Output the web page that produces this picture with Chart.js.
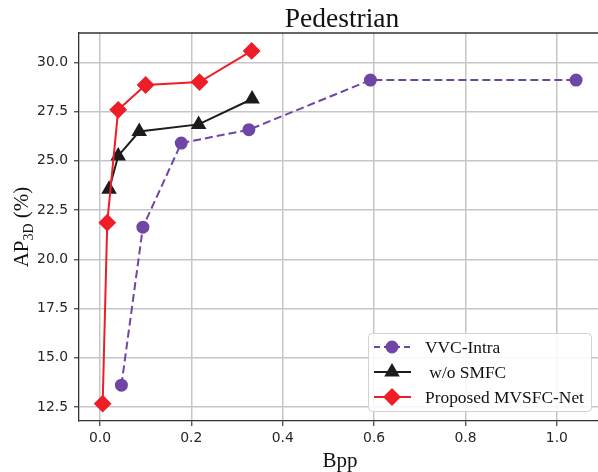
<!DOCTYPE html>
<html lang="en">
<head>
    <meta charset="UTF-8">
    <title>Pedestrian</title>
    <script src="https://cdn.jsdelivr.net/npm/chart.js"></script>
    <style>
        html, body { margin: 0; padding: 0; background: #fff; }
        #wrap { width: 598px; height: 472px; }
    </style>
</head>
<body>
    <div id="wrap"><canvas id="chart" width="598" height="472"></canvas></div>

    <script>
        // data
        const vvcX = [0.047, 0.094, 0.178, 0.326, 0.592, 1.042];
        const vvcY = [13.61, 21.63, 25.90, 26.58, 29.10, 29.10];
        const smfcX = [0.020, 0.040, 0.086, 0.216, 0.333];
        const smfcY = [23.56, 25.25, 26.49, 26.85, 28.14];
        const propX = [0.006, 0.016, 0.040, 0.100, 0.218, 0.332];
        const propY = [12.67, 21.86, 27.59, 28.85, 29.00, 30.58];
        const xTicks = [0.0, 0.2, 0.4, 0.6, 0.8, 1.0];
        const yTicks = [12.5, 15.0, 17.5, 20.0, 22.5, 25.0, 27.5, 30.0];
        const seriesNames = ['VVC-Intra', ' w/o SMFC', 'Proposed MVSFC-Net'];

        const serif = '"Liberation Serif", "DejaVu Serif", serif';
        const sans = '"DejaVu Sans", sans-serif';
        const PURPLE = '#6f45a6', BLACK = '#1c1c1c', RED = '#ee1d27';
        const GRID = '#c6c6ca';

        function pts(xs, ys) { return xs.map((x, i) => ({ x: x, y: ys[i] })); }

        const styles = [
            { color: PURPLE, dash: [8, 4], point: 'circle', r: 5.5 },
            { color: BLACK, dash: [], point: 'triangle', r: 7 },
            { color: RED, dash: [], point: 'rectRot', r: 7.5 }
        ];

        const extras = {
            id: 'extras',
            afterDraw(chart) {
                const ctx = chart.ctx, a = chart.chartArea;
                ctx.save();
                // top spine
                ctx.strokeStyle = '#333';
                ctx.lineWidth = 1.3;
                ctx.beginPath();
                ctx.moveTo(a.left, a.top);
                ctx.lineTo(a.right, a.top);
                ctx.stroke();

                // title
                ctx.fillStyle = '#111';
                ctx.font = '27.5px ' + serif;
                ctx.textAlign = 'center';
                ctx.textBaseline = 'alphabetic';
                ctx.fillText('Pedestrian', 342, 27);

                // x label
                ctx.font = '21px ' + serif;
                ctx.fillText('Bpp', 340, 467);

                // y label with subscript
                ctx.save();
                ctx.translate(28, 227);
                ctx.rotate(-Math.PI / 2);
                ctx.textAlign = 'left';
                const big = '21px ' + serif, small = '14px ' + serif;
                ctx.font = big;
                const w1 = ctx.measureText('AP').width;
                const w3 = ctx.measureText(' (%)').width;
                ctx.font = small;
                const w2 = ctx.measureText('3D').width;
                let x0 = -(w1 + w2 + w3) / 2;
                ctx.font = big;
                ctx.fillText('AP', x0, 0);
                ctx.font = small;
                ctx.fillText('3D', x0 + w1, 5);
                ctx.font = big;
                ctx.fillText(' (%)', x0 + w1 + w2, 0);
                ctx.restore();

                // legend box
                const bx = 368, by = 333, bw = 223, bh = 78;
                ctx.fillStyle = 'rgba(255,255,255,0.85)';
                ctx.strokeStyle = '#d2d2d2';
                ctx.lineWidth = 1;
                ctx.beginPath();
                ctx.roundRect(bx + 0.5, by + 0.5, bw, bh, 4);
                ctx.fill();
                ctx.stroke();

                const rows = [347, 372, 397];
                seriesNames.forEach((name, i) => {
                    const s = styles[i], y = rows[i];
                    ctx.strokeStyle = s.color;
                    ctx.lineWidth = 2;
                    ctx.setLineDash(s.dash.length ? [6, 4] : []);
                    ctx.beginPath();
                    ctx.moveTo(374, y);
                    ctx.lineTo(411, y);
                    ctx.stroke();
                    ctx.setLineDash([]);
                    ctx.fillStyle = s.color;
                    Chart.helpers.drawPoint(ctx, {
                        pointStyle: s.point, radius: s.r, borderWidth: 1, rotation: 0
                    }, 392, y);
                    ctx.fillStyle = '#111';
                    ctx.font = '17.4px ' + serif;
                    ctx.textAlign = 'left';
                    ctx.textBaseline = 'middle';
                    ctx.fillText(name, 425, y + 1);
                });
                ctx.restore();
            }
        };

        const datasets = [
            { label: seriesNames[0], data: pts(vvcX, vvcY), order: 3 },
            { label: seriesNames[1], data: pts(smfcX, smfcY), order: 2 },
            { label: seriesNames[2], data: pts(propX, propY), order: 1 }
        ].map((d, i) => Object.assign(d, {
            borderColor: styles[i].color,
            backgroundColor: styles[i].color,
            pointBackgroundColor: styles[i].color,
            pointBorderColor: styles[i].color,
            borderWidth: 2,
            borderDash: styles[i].dash,
            pointStyle: styles[i].point,
            pointRadius: styles[i].r,
            pointHoverRadius: styles[i].r,
            showLine: true,
            tension: 0,
            fill: false
        }));

        new Chart(document.getElementById('chart'), {
            type: 'scatter',
            data: { datasets: datasets },
            options: {
                responsive: false,
                animation: false,
                layout: { autoPadding: false, padding: { top: 33, right: 0, left: 0, bottom: 0 } },
                plugins: { legend: { display: false }, tooltip: { enabled: false }, title: { display: false } },
                scales: {
                    x: {
                        type: 'linear',
                        min: -0.0458,
                        max: 1.09,
                        afterBuildTicks: s => { s.ticks = xTicks.map(v => ({ value: v })); },
                        afterFit: s => { s.height = 51; s.paddingLeft = 0; s.paddingRight = 0; },
                        ticks: {
                            color: '#262626',
                            font: { family: sans, size: 13.9 },
                            padding: 4,
                            callback: v => Number(v).toFixed(1)
                        },
                        grid: { color: GRID, lineWidth: 1.5, tickLength: 5, tickColor: '#3a3a3a', tickWidth: 1.2 },
                        border: { display: true, color: '#333', width: 1.3 }
                    },
                    y: {
                        type: 'linear',
                        min: 11.79,
                        max: 31.49,
                        afterBuildTicks: s => { s.ticks = yTicks.map(v => ({ value: v })); },
                        afterFit: s => { s.width = 79; s.paddingTop = 0; s.paddingBottom = 0; },
                        ticks: {
                            color: '#262626',
                            font: { family: sans, size: 13.9 },
                            padding: 6,
                            callback: v => Number(v).toFixed(1)
                        },
                        grid: { color: GRID, lineWidth: 1.5, tickLength: 5, tickColor: '#3a3a3a', tickWidth: 1.2 },
                        border: { display: true, color: '#333', width: 1.3 }
                    }
                }
            },
            plugins: [extras]
        });
    </script>
</body>
</html>
